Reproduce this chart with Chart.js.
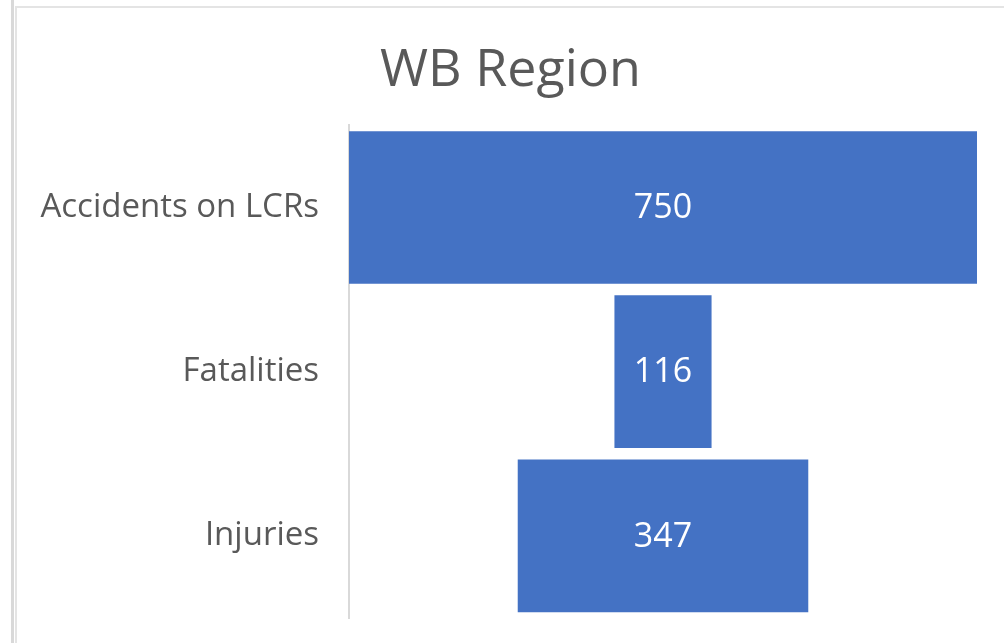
<!DOCTYPE html>
<html>
<head>
<meta charset="utf-8">
<script src="https://cdn.jsdelivr.net/npm/chart.js@4"></script>
<style>
  html, body { margin: 0; padding: 0; background: #fff; }
  body { width: 1004px; height: 643px; overflow: hidden; position: relative; }
  .edge { position: absolute; left: 11px; top: 0; width: 3px; height: 643px; background: #d9d9d9; }
  .frame { position: absolute; left: 15px; top: 6px; width: 989px; height: 637px;
           border-left: 2px solid #e4e4e4; border-top: 2px solid #e4e4e4; }
  .frame canvas { display: block; }
</style>
</head>
<body>
<div class="edge"></div>
<div class="frame">
  <canvas id="myChart" width="987" height="635"></canvas>
</div>
<script>
const titleText = 'WB Region';
const stages = ['Accidents on LCRs', 'Fatalities', 'Injuries'];
const counts = [750, 116, 347];

// funnel: each bar is centred on the middle of the largest value
const maxCount = Math.max(...counts);
const floating = counts.map(v => [(maxCount - v) / 2, (maxCount + v) / 2]);

const barLabels = {
  id: 'barLabels',
  afterDatasetsDraw(chart) {
    const ctx = chart.ctx;
    const meta = chart.getDatasetMeta(0);
    ctx.save();
    ctx.fillStyle = '#ffffff';
    ctx.font = '34px "Open Sans", sans-serif';
    ctx.textAlign = 'center';
    ctx.textBaseline = 'middle';
    meta.data.forEach((bar, i) => {
      const p = bar.getProps(['x', 'base', 'y'], true);
      ctx.fillText(String(counts[i]), (p.x + p.base) / 2, p.y + 1);
    });
    ctx.restore();
  }
};

const data = {
  labels: stages,
  datasets: [{
    data: floating,
    backgroundColor: '#4472c4',
    borderWidth: 0,
    barPercentage: 0.93,
    categoryPercentage: 1
  }]
};

const config = {
  type: 'bar',
  data: data,
  options: {
    indexAxis: 'y',
    responsive: false,
    animation: false,
    layout: { padding: { left: 0, right: 0, top: 0, bottom: 25 } },
    plugins: {
      legend: { display: false },
      tooltip: { enabled: false },
      title: {
        display: true,
        text: titleText,
        color: '#595959',
        font: { family: '"Open Sans", sans-serif', size: 52, weight: 'normal' },
        padding: { top: 32, bottom: 23 }
      }
    },
    scales: {
      x: {
        display: false,
        min: 0,
        max: maxCount
      },
      y: {
        grid: { display: false },
        border: { display: true, color: '#d9d9d9', width: 2 },
        ticks: {
          color: '#595959',
          padding: 22,
          font: { family: '"Open Sans", sans-serif', size: 33 }
        },
        afterFit(scale) {
          scale.width = 332;
          scale.paddingTop = 0;
          scale.paddingBottom = 0;
        }
      },
      // empty spacer on the right so the title stays centred on the whole chart
      spacer: {
        type: 'linear',
        axis: 'y',
        position: 'right',
        grid: { display: false },
        border: { display: false },
        ticks: { display: false },
        afterFit(scale) {
          scale.width = 27;
          scale.paddingTop = 0;
          scale.paddingBottom = 0;
        }
      }
    }
  },
  plugins: [barLabels]
};

let myChart = new Chart(document.getElementById('myChart'), config);
</script>
</body>
</html>
